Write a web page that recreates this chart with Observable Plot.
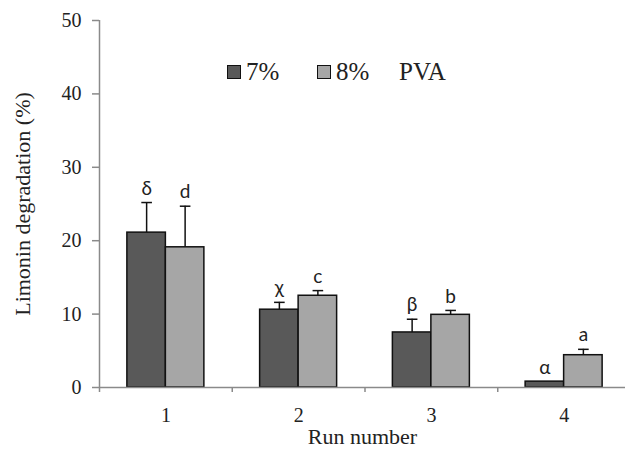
<!DOCTYPE html>
<html>
<head>
<meta charset="utf-8">
<script src="https://cdn.jsdelivr.net/npm/d3@7"></script>
<script src="https://cdn.jsdelivr.net/npm/@observablehq/plot@0.6"></script>
<style>
  html, body { margin: 0; padding: 0; background: #fff; }
  #wrap { position: relative; width: 625px; height: 459px; }
  .leg { position: absolute; font-family: "Liberation Serif", "DejaVu Serif", serif; font-size: 25px; color: #222; line-height: 1; }
  .sw { position: absolute; width: 12px; height: 12px; border: 1.5px solid #111; }
</style>
</head>
<body>
<div id="wrap"></div>
<script>
const runs = [1, 2, 3, 4];
const seriesNames = ["7%", "8%"];
const mean7 = [21.1, 10.6, 7.5, 0.8];
const err7 = [4.1, 1.0, 1.8, 0];
const mean8 = [19.1, 12.5, 9.9, 4.4];
const err8 = [5.6, 0.7, 0.6, 0.8];
const letters7 = ["δ", "χ", "β", "α"];
const letters8 = ["d", "c", "b", "a"];
const yTicks = [0, 10, 20, 30, 40, 50];

const colors = {"7%": "#595959", "8%": "#a6a6a6"};
const bw = 0.29;   // bar width in run units
const cap = 0.04;  // half cap width

const rows = [];
runs.forEach((r, i) => {
  rows.push({run: r, series: seriesNames[0], value: mean7[i], err: err7[i], letter: letters7[i], x1: r - bw, x2: r});
  rows.push({run: r, series: seriesNames[1], value: mean8[i], err: err8[i], letter: letters8[i], x1: r, x2: r + bw});
});
rows.forEach(d => { d.xc = (d.x1 + d.x2) / 2; d.top = d.value + d.err; });
const errRows = rows.filter(d => d.err > 0);
const bounds = runs.map(r => r - 0.5);

const axisGray = "#8a8a8a";
const serif = "'Liberation Serif', 'Times New Roman', 'DejaVu Serif', serif";
const sans = "Lato, 'Open Sans', sans-serif";

const chart = Plot.plot({
  width: 625,
  height: 459,
  marginLeft: 99,
  marginRight: 0,
  marginTop: 20,
  marginBottom: 72,
  style: {background: "#fff", overflow: "visible"},
  x: {domain: [0.5, 4.5], range: [99, 630]},
  y: {domain: [0, 50], range: [387, 20]},
  marks: [
    Plot.ruleX([0.5], {y1: 0, y2: 50, stroke: axisGray, strokeWidth: 1.5}),
    Plot.axisY(yTicks, {tickSize: 7, tickPadding: 11, stroke: axisGray, strokeWidth: 1.5, fill: "#222", fontSize: 20, label: null}),
    Plot.rectY(rows, {x1: "x1", x2: "x2", y: "value", fill: d => colors[d.series], stroke: "#111", strokeWidth: 1.5}),
    Plot.ruleX(errRows, {x: "xc", y1: "value", y2: "top", stroke: "#111", strokeWidth: 1.5}),
    Plot.link(errRows, {x1: d => d.xc - cap, x2: d => d.xc + cap, y1: "top", y2: "top", stroke: "#111", strokeWidth: 1.5}),
    Plot.text(rows, {x: "xc", y: "top", text: "letter", dy: -14, fontSize: 19, fill: "#222"}),
    Plot.ruleY([0], {stroke: axisGray, strokeWidth: 1.5}),
    Plot.axisX(bounds, {tickSize: 5, stroke: axisGray, strokeWidth: 1.5, tickFormat: () => "", label: null}),
    Plot.axisX(runs, {tickSize: 0, tickPadding: 20, tickFormat: d3.format("d"), fill: "#222", fontSize: 20, label: null}),
    Plot.text(["Run number"], {frameAnchor: "bottom", dy: 56, fontSize: 22, fill: "#222"}),
    Plot.text(["Limonin degradation (%)"], {frameAnchor: "left", textAnchor: "middle", dx: -77, rotate: -90, fontSize: 22, fill: "#222"})
  ]
});

// fonts: serif everywhere, sans for the significance letters
const letterSet = new Set([...letters7, ...letters8]);
d3.select(chart).selectAll("text").each(function() {
  const isLetter = letterSet.has(this.textContent);
  this.style.setProperty("font-family", isLetter ? sans : serif);
});

const wrap = document.getElementById("wrap");
wrap.appendChild(chart);

const legendItems = [
  {label: seriesNames[0], sw: 227, tx: 246},
  {label: seriesNames[1], sw: 317, tx: 336}
];
legendItems.forEach(it => {
  const s = document.createElement("div");
  s.className = "sw";
  s.style.left = it.sw + "px";
  s.style.top = "65px";
  s.style.background = colors[it.label];
  wrap.appendChild(s);
  const t = document.createElement("div");
  t.className = "leg";
  t.style.left = it.tx + "px";
  t.style.top = "59px";
  t.textContent = it.label;
  wrap.appendChild(t);
});
const pva = document.createElement("div");
pva.className = "leg";
pva.style.left = "399px";
pva.style.top = "59px";
pva.textContent = "PVA";
wrap.appendChild(pva);
</script>
</body>
</html>
